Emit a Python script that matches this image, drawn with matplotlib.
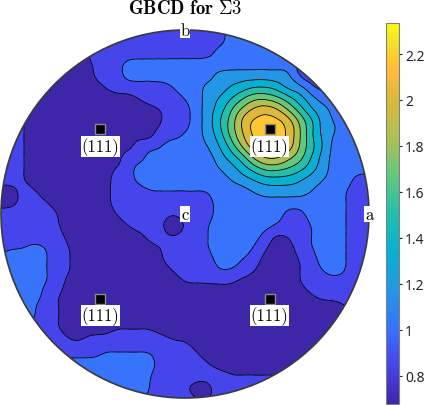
import numpy as np
import matplotlib
matplotlib.use('Agg')
import matplotlib.pyplot as plt
import matplotlib.tri as mtri
from matplotlib.colors import LinearSegmentedColormap, Normalize
from matplotlib.cm import ScalarMappable
from matplotlib.patches import Circle

plt.rcParams['font.family'] = ['Noto Sans', 'DejaVu Sans']
plt.rcParams['mathtext.fontset'] = 'cm'

# ---------------- data ----------------
TITLE = r'$\mathbf{GBCD\ for\ \Sigma 3}$'
VMIN, VMAX = 0.677, 2.335          # colour-bar range
N_BANDS = 10                       # filled contour bands
CBAR_TICKS = [0.8, 1.0, 1.2, 1.4, 1.6, 1.8, 2.0, 2.2]
CBAR_TICK_LABELS = ['0.8', '1', '1.2', '1.4', '1.6', '1.8', '2', '2.2']

MARKER_U = [-0.4595, 0.4595, -0.4595, 0.4595]
MARKER_V = [0.4595, 0.4595, -0.4595, -0.4595]
MARKER_LABELS = ['(111)', '(111)', '(111)', '(111)']

AXIS_LABELS = ['a', 'b', 'c']
AXIS_U = [1.0, 0.0, 0.0]
AXIS_V = [0.0, 1.0, 0.0]

# band read at each node of a 33x33 grid (spacing r/16) over the disk:
# digit k = inside band k (0 = lowest), letter = on the boundary below band
# ('a' = between band 0 and 1, ...), 'A' = local minimum (colour-bar floor),
# '.' = far outside the disk
GRID_ROWS = [
    ". . . . . . . . . . 1 1 1 1 1 1 1 1 1 1 2 2 2 . . . . . . . . . .",
    ". . . . . . . . 1 1 1 1 1 1 1 1 1 1 1 1 2 2 2 2 2 . . . . . . . .",
    ". . . . . . . 0 1 1 1 1 1 1 1 1 1 1 1 2 2 2 2 2 2 2 . . . . . . .",
    ". . . . . 0 0 0 a 1 1 2 2 2 2 2 2 2 2 2 2 2 2 2 2 2 1 1 . . . . .",
    ". . . . 0 0 0 0 a 1 1 2 2 2 2 2 2 2 2 3 3 3 3 3 3 3 1 1 1 . . . .",
    ". . . 0 0 0 0 0 0 a 1 1 1 1 1 b 2 2 3 3 d 4 e e 4 3 3 b 1 1 . . .",
    ". . . 0 0 0 0 0 0 0 0 0 a 1 1 1 b 2 3 d e f g g 6 5 4 3 2 2 . . .",
    ". . 0 0 0 0 0 0 0 0 0 0 0 0 a 1 1 2 3 4 f 7 8 i 8 g 5 d 3 2 2 . .",
    ". 1 a 0 0 0 0 0 0 0 0 0 0 0 a 1 1 2 3 e 6 8 9 9 9 i g 5 3 c 2 2 .",
    ". 1 a 0 0 0 0 0 0 0 0 0 0 0 1 1 b 2 3 4 6 h 9 9 9 i g e 3 c 2 2 .",
    "1 1 a 0 0 0 0 0 0 0 0 0 1 1 b 2 2 2 c d 5 7 i 9 9 i g 5 d 2 2 2 2",
    "1 1 a 0 0 0 0 0 0 0 0 1 1 2 2 2 2 2 2 3 4 5 7 8 8 7 6 e 3 2 2 2 2",
    "1 1 a 0 0 0 0 0 0 0 a 1 2 2 2 2 2 2 2 c 3 4 5 6 6 f 5 4 3 2 2 2 2",
    "1 1 a 0 0 0 0 0 0 0 1 1 2 2 2 2 2 2 2 2 c 3 d 4 4 4 d 3 c 2 2 1 1",
    "0 0 1 a 0 0 0 0 0 0 1 1 1 b b b b b b 2 2 2 c 3 3 3 3 c 2 2 b 1 1",
    "0 0 1 1 a 0 0 0 0 0 1 1 1 1 1 1 1 1 1 2 2 2 2 2 2 2 2 2 2 2 b 1 1",
    "1 1 1 1 1 a 0 0 0 0 a 1 1 1 1 a 1 1 1 2 2 2 2 2 2 1 1 2 2 2 b 1 1",
    "1 1 1 1 1 a 0 0 0 0 0 a 1 1 a A a 1 b 2 2 2 2 2 b 1 1 b 2 2 b 1 1",
    "1 1 1 1 1 1 0 0 0 0 0 0 0 1 1 a 1 1 b 2 2 2 2 1 0 a 1 b 2 2 b 1 1",
    "1 b b 2 b 1 a 0 0 0 0 0 0 0 a 1 1 1 b 2 2 2 b a 0 0 1 b 2 2 b 1 1",
    "2 2 2 2 b 1 a 0 0 0 0 0 0 0 a 1 1 1 1 2 2 b 1 0 0 0 a 1 2 2 b 1 1",
    "2 2 2 2 b 1 a 0 0 0 0 0 0 0 0 a 1 1 1 b b 1 a 0 0 0 a 1 b 2 b 1 1",
    "2 2 2 2 b 1 0 0 0 0 0 0 0 0 0 0 a a a a a 0 0 0 0 0 a 1 1 1 1 1 1",
    ". 2 2 2 1 a 0 0 0 0 0 0 0 0 0 0 0 0 0 0 0 0 0 0 0 0 0 a 1 1 1 1 .",
    ". 2 2 b 1 a 0 0 0 0 0 0 0 0 0 0 0 0 0 0 0 0 0 0 0 0 0 0 0 0 a 1 .",
    ". . 2 b 1 a 0 0 0 0 0 0 0 0 0 0 0 0 0 0 0 0 0 0 0 0 0 0 0 0 0 . .",
    ". . . 1 1 a 0 0 0 0 a a a a 0 0 0 0 0 0 0 0 0 0 0 0 0 0 0 0 . . .",
    ". . . . 1 1 a a 1 1 1 1 1 1 1 a a 0 0 0 0 0 0 0 0 0 0 0 0 0 . . .",
    ". . . . 1 1 1 1 1 b b b b b 1 1 1 a 0 0 0 0 0 0 0 0 0 0 0 . . . .",
    ". . . . . 2 2 2 2 2 2 2 2 2 1 1 1 1 a 0 0 0 0 0 0 0 0 0 . . . . .",
    ". . . . . . . 2 2 2 2 2 2 b 1 1 1 1 1 1 a a a a a 0 . . . . . . .",
    ". . . . . . . . 2 2 2 2 2 b 1 1 a 0 0 1 1 1 1 1 1 . . . . . . . .",
    ". . . . . . . . . . 2 2 2 1 1 1 1 a a 1 1 1 1 . . . . . . . . . .",
]

# parula-like colour map anchors
PARULA = [
    (0.00, (0.242, 0.150, 0.660)),
    (0.10, (0.277, 0.268, 0.925)),
    (0.20, (0.218, 0.450, 0.990)),
    (0.30, (0.135, 0.595, 0.900)),
    (0.40, (0.040, 0.690, 0.820)),
    (0.50, (0.140, 0.745, 0.675)),
    (0.60, (0.390, 0.782, 0.495)),
    (0.70, (0.680, 0.755, 0.330)),
    (0.80, (0.860, 0.725, 0.235)),
    (0.87, (0.990, 0.730, 0.250)),
    (0.90, (0.995, 0.778, 0.205)),
    (0.95, (0.960, 0.880, 0.160)),
    (1.00, (0.977, 0.984, 0.081)),
]
parula = LinearSegmentedColormap.from_list('parula', PARULA)

# ---------------- build the field ----------------
codes = [r.split() for r in GRID_ROWS]
n = len(codes)
half = (n - 1) // 2
step = (VMAX - VMIN) / N_BANDS
Z = np.full((n, n), np.nan)
for j, row in enumerate(codes):
    for i, ch in enumerate(row):
        if ch == '.':
            continue
        if ch == 'A':
            Z[j, i] = VMIN
        elif ch.isdigit():
            Z[j, i] = VMIN + (int(ch) + 0.5) * step
        else:
            Z[j, i] = VMIN + (ord(ch) - ord('a') + 1) * step
while np.isnan(Z).any():
    P = np.pad(Z, 1, constant_values=np.nan)
    nb = np.stack([P[:-2, 1:-1], P[2:, 1:-1], P[1:-1, :-2], P[1:-1, 2:]])
    cnt = (~np.isnan(nb)).sum(0)
    s = np.nansum(nb, 0)
    fill = np.isnan(Z) & (cnt > 0)
    Z[fill] = s[fill] / cnt[fill]

# light smoothing of the read-off band grid (binomial kernel)
P = np.pad(Z, 1, mode='edge')
Sx = 0.25 * P[:, :-2] + 0.5 * P[:, 1:-1] + 0.25 * P[:, 2:]
S = 0.25 * Sx[:-2, :] + 0.5 * Sx[1:-1, :] + 0.25 * Sx[2:, :]
Z = 0.25 * Z + 0.75 * S

u = (np.arange(n) - half) / half
v = (half - np.arange(n)) / half
X, Y = np.meshgrid(u, v)
idx = np.arange(n * n).reshape(n, n)
a_ = idx[:-1, :-1].ravel(); b_ = idx[:-1, 1:].ravel()
c_ = idx[1:, :-1].ravel(); d_ = idx[1:, 1:].ravel()
triangles = np.concatenate([np.stack([a_, b_, d_], 1), np.stack([a_, d_, c_], 1)])
tri = mtri.Triangulation(X.ravel(), Y.ravel(), triangles)
refiner = mtri.UniformTriRefiner(tri)
tri_f, z_f = refiner.refine_field(Z.ravel(), subdiv=3)
z_f = np.clip(z_f, VMIN + 1e-6, VMAX - 1e-6)

levels = np.linspace(VMIN, VMAX, N_BANDS + 1)
band_colors = [parula(k / N_BANDS) for k in range(N_BANDS)]

# ---------------- figure ----------------
W, H = 430, 406
fig = plt.figure(figsize=(W / 100, H / 100), dpi=100)
lim = 185 / 184
ax = fig.add_axes([0, 6 / H, 370 / W, 370 / H])
ax.set_xlim(-lim, lim)
ax.set_ylim(-lim, lim)
ax.axis('off')

clip = Circle((0, 0), 1, transform=ax.transData)
cs = ax.tricontourf(tri_f, z_f, levels=levels, colors=band_colors)
cs.set_clip_path(clip)
cl = ax.tricontour(tri_f, z_f, levels=levels[1:-1], colors='black', linewidths=0.6)
cl.set_clip_path(clip)
ax.add_patch(Circle((0, 0), 1, fill=False, ec='#3a3a3a', lw=1.2, zorder=5))

ax.plot(MARKER_U, MARKER_V, 's', ms=7.8, mfc='black', mec='#8c8c8c', mew=1.0,
        ls='none', zorder=6)
for mu, mv, lab in zip(MARKER_U, MARKER_V, MARKER_LABELS):
    ax.annotate(lab, (mu, mv), xytext=(0, -12.3), textcoords='offset points',
                ha='center', va='center', fontfamily='cmr10', fontsize=12,
                bbox=dict(boxstyle='square,pad=0.05', fc='white', ec='none'),
                zorder=7)
for au, av, lab in zip(AXIS_U, AXIS_V, AXIS_LABELS):
    ax.text(au, av, lab, ha='center', va='center', fontfamily='cmr10',
            fontsize=12, zorder=7,
            bbox=dict(boxstyle='square,pad=0.05', fc='white', ec='none'))

fig.text(185 / W, 1 - 9.5 / H, TITLE, ha='center', va='center', fontsize=13.5)

cax = fig.add_axes([386 / W, 1 / H, 13 / W, 381 / H])
sm = ScalarMappable(norm=Normalize(VMIN, VMAX), cmap=parula)
cb = fig.colorbar(sm, cax=cax, ticks=CBAR_TICKS)
cb.ax.set_yticklabels(CBAR_TICK_LABELS)
cb.outline.set_edgecolor('#808080')
cb.outline.set_linewidth(0.8)
cax.tick_params(direction='out', length=2.5, width=0.8, colors='#262626',
                labelsize=10, pad=2)

fig.savefig('out.png', dpi=100)
